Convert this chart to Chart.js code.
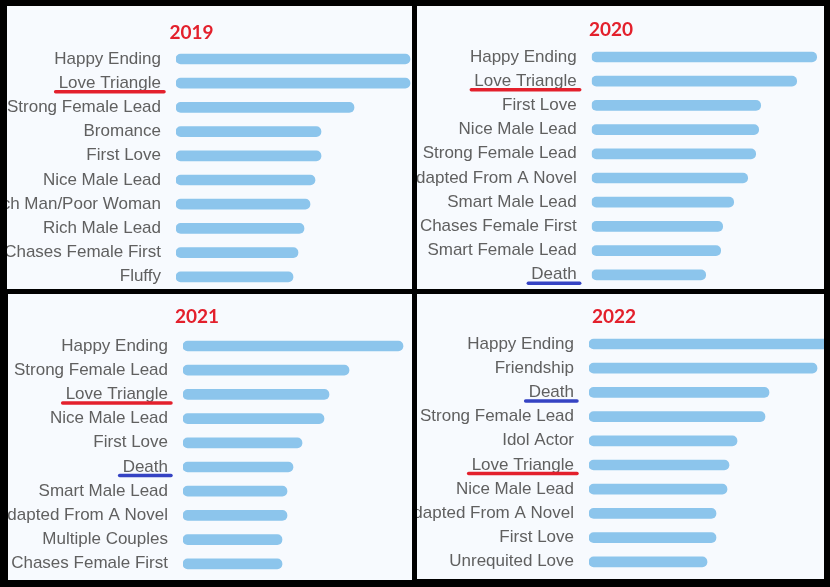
<!DOCTYPE html>
<html><head><meta charset="utf-8">
<script src="https://cdn.jsdelivr.net/npm/chart.js@4.4.0/dist/chart.umd.min.js"></script>
<style>
html,body{margin:0;padding:0;background:#000;}
body{width:830px;height:587px;position:relative;overflow:hidden;}
.panel{position:absolute;overflow:hidden;background:#F7FAFE;}
.panel canvas{position:absolute;top:0;}
</style></head><body>
<div id="p0" class="panel"><canvas id="c0"></canvas></div>
<div id="p1" class="panel"><canvas id="c1"></canvas></div>
<div id="p2" class="panel"><canvas id="c2"></canvas></div>
<div id="p3" class="panel"><canvas id="c3"></canvas></div>
<script>
const years = ['2019', '2020', '2021', '2022'];

const labels2019 = ['Happy Ending', 'Love Triangle', 'Strong Female Lead', 'Bromance', 'First Love', 'Nice Male Lead', 'Rich Man/Poor Woman', 'Rich Male Lead', 'Male Chases Female First', 'Fluffy'];
const values2019 = [234, 234, 178, 145, 145, 139, 134, 128, 122, 117];

const labels2020 = ['Happy Ending', 'Love Triangle', 'First Love', 'Nice Male Lead', 'Strong Female Lead', 'Adapted From A Novel', 'Smart Male Lead', 'Male Chases Female First', 'Smart Female Lead', 'Death'];
const values2020 = [225, 205, 169, 167, 164, 156, 142, 131, 129, 114];

const labels2021 = ['Happy Ending', 'Strong Female Lead', 'Love Triangle', 'Nice Male Lead', 'First Love', 'Death', 'Smart Male Lead', 'Adapted From A Novel', 'Multiple Couples', 'Male Chases Female First'];
const values2021 = [220, 166, 146, 141, 119, 110, 104, 104, 99, 99];

const labels2022 = ['Happy Ending', 'Friendship', 'Death', 'Strong Female Lead', 'Idol Actor', 'Love Triangle', 'Nice Male Lead', 'Adapted From A Novel', 'First Love', 'Unrequited Love'];
const values2022 = [240, 228, 180, 176, 148, 140, 138, 127, 127, 118];

// hand-drawn underline annotations
const highlights = [
  {label: 'Love Triangle', color: '#E3202C'},
  {label: 'Death', color: '#3543C3'}
];

const allLabels = [labels2019, labels2020, labels2021, labels2022];
const allValues = [values2019, values2020, values2021, values2022];

// panel layout (pixels)
const layouts = [
  {x: 7,   y: 6,   w: 405, h: 283, titleX: 184.5, titleY: 27, barStart: 169,   firstRow: 53, rowStep: 24.2},
  {x: 417, y: 6,   w: 407, h: 283, titleX: 194,   titleY: 24, barStart: 174.7, firstRow: 51, rowStep: 24.2},
  {x: 8,   y: 294, w: 404, h: 286, titleX: 189,   titleY: 23, barStart: 175,   firstRow: 52, rowStep: 24.2},
  {x: 417, y: 294, w: 407, h: 285, titleX: 197,   titleY: 23, barStart: 172,   firstRow: 50, rowStep: 24.2}
];

const TICK_PAD = 15;
const TITLE_SIZE = 19;
const TITLE_LH = 1.2;

const underlinePlugin = {
  id: 'underline',
  afterDraw(chart, args, opts) {
    const items = opts.items || [];
    const ys = chart.scales.y;
    const ctx = chart.ctx;
    const f = Chart.helpers.toFont(ys.options.ticks.font);
    ctx.save();
    ctx.font = f.string;
    items.forEach(it => {
      const i = chart.data.labels.indexOf(it.label);
      if (i < 0) return;
      const w = ctx.measureText(it.label).width;
      const right = ys.right - ys.options.ticks.padding;
      const yy = ys.getPixelForTick(i) + 8.5;
      ctx.beginPath();
      ctx.moveTo(right - w - 3, yy);
      ctx.lineTo(right + 3, yy);
      ctx.strokeStyle = it.color;
      ctx.lineWidth = 3.5;
      ctx.lineCap = 'round';
      ctx.stroke();
    });
    ctx.restore();
  }
};

layouts.forEach((L, k) => {
  const panel = document.getElementById('p' + k);
  panel.style.left = L.x + 'px';
  panel.style.top = L.y + 'px';
  panel.style.width = L.w + 'px';
  panel.style.height = L.h + 'px';

  const off = L.w - 2 * L.titleX;          // canvas starts this far left of panel
  const W = L.w + off;
  const top = L.firstRow - L.rowStep / 2;
  const bottom = top + L.rowStep * allLabels[k].length;
  const H = Math.max(L.h, Math.ceil(bottom));
  const titleBox = TITLE_SIZE * TITLE_LH;

  const cv = document.getElementById('c' + k);
  cv.width = W; cv.height = H;
  cv.style.width = W + 'px'; cv.style.height = H + 'px';
  cv.style.left = (-off) + 'px';

  new Chart(cv, {
    type: 'bar',
    data: {
      labels: allLabels[k],
      datasets: [{
        data: allValues[k],
        backgroundColor: '#8CC5EC',
        borderWidth: 0,
        borderRadius: 5,
        borderSkipped: false,
        barThickness: 10
      }]
    },
    options: {
      indexAxis: 'y',
      responsive: false,
      animation: false,
      devicePixelRatio: 1,
      layout: {padding: {left: 0, right: 0, top: 0, bottom: H - bottom}},
      plugins: {
        legend: {display: false},
        tooltip: {enabled: false},
        title: {
          display: true,
          text: years[k],
          color: '#E3202C',
          font: {family: 'Lato', size: TITLE_SIZE, weight: 'bold', lineHeight: TITLE_LH},
          padding: {top: L.titleY - titleBox / 2, bottom: top - (L.titleY + titleBox / 2)}
        },
        underline: {items: highlights}
      },
      scales: {
        x: {display: false, min: 0, max: L.w - L.barStart},
        y: {
          grid: {display: false, drawTicks: false},
          border: {display: false},
          ticks: {
            autoSkip: false,
            padding: TICK_PAD,
            color: '#606060',
            font: {family: 'Liberation Sans', size: 17}
          },
          afterFit(scale) {
            scale.width = L.barStart + off;
            scale.paddingTop = 0;
            scale.paddingBottom = 0;
          }
        }
      }
    },
    plugins: [underlinePlugin]
  });
});
</script>
</body></html>
